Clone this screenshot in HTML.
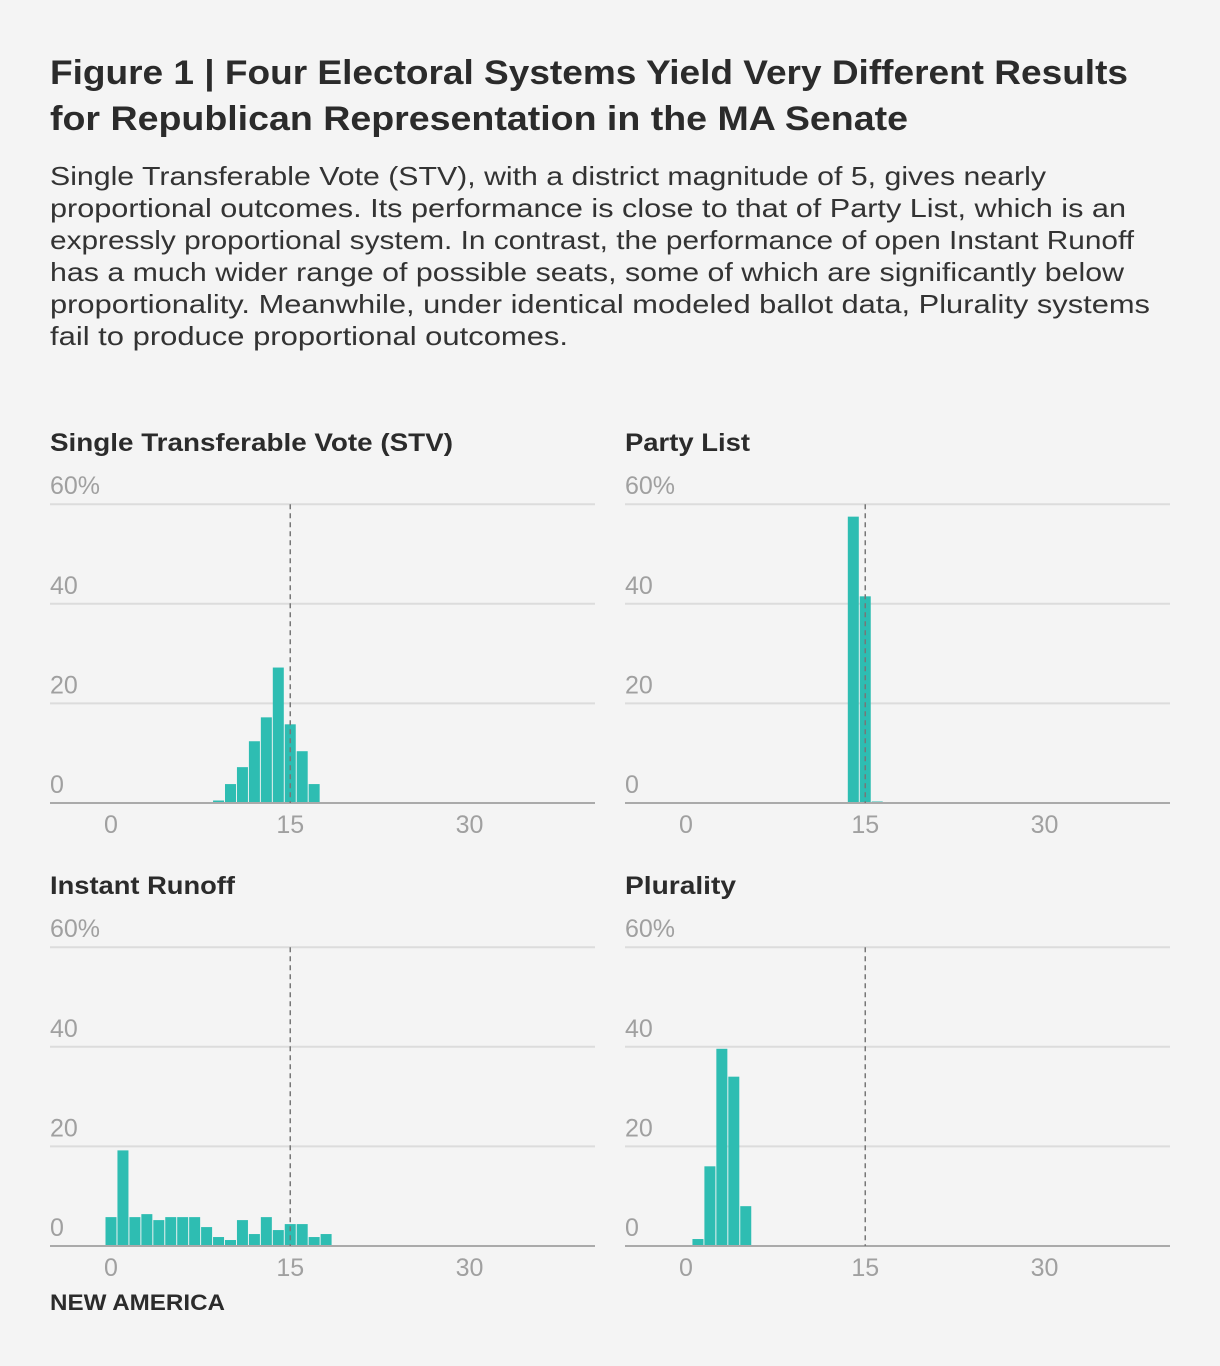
<!DOCTYPE html>
<html><head><meta charset="utf-8">
<style>
body{margin:0;background:#f4f4f4;width:1220px;height:1366px;overflow:hidden;font-family:"Liberation Sans",sans-serif;}
svg{position:absolute;left:0;top:0;}
</style></head>
<body>
<svg id="fig" width="1220" height="1366">
<text x="50" y="84" font-size="34" font-weight="bold" fill="#2b2b2b" textLength="1078" lengthAdjust="spacingAndGlyphs">Figure 1 | Four Electoral Systems Yield Very Different Results</text>
<text x="50" y="130" font-size="34" font-weight="bold" fill="#2b2b2b" textLength="858" lengthAdjust="spacingAndGlyphs">for Republican Representation in the MA Senate</text>
<g font-size="26" fill="#333" lengthAdjust="spacingAndGlyphs">
<text x="50" y="185" textLength="996" lengthAdjust="spacingAndGlyphs">Single Transferable Vote (STV), with a district magnitude of 5, gives nearly</text>
<text x="50" y="217" textLength="1076" lengthAdjust="spacingAndGlyphs">proportional outcomes. Its performance is close to that of Party List, which is an</text>
<text x="50" y="249" textLength="1084" lengthAdjust="spacingAndGlyphs">expressly proportional system. In contrast, the performance of open Instant Runoff</text>
<text x="50" y="281" textLength="1074" lengthAdjust="spacingAndGlyphs">has a much wider range of possible seats, some of which are significantly below</text>
<text x="50" y="313" textLength="1100" lengthAdjust="spacingAndGlyphs">proportionality. Meanwhile, under identical modeled ballot data, Plurality systems</text>
<text x="50" y="345" textLength="518" lengthAdjust="spacingAndGlyphs">fail to produce proportional outcomes.</text>
</g>
<text x="50" y="1310" font-size="22" font-weight="bold" fill="#2b2b2b" textLength="175" lengthAdjust="spacingAndGlyphs">NEW AMERICA</text>
</svg>
<script>
const stvSeats=[9,10,11,12,13,14,15,16,17];
const stvValues=[0.5,3.8,7.2,12.4,17.2,27.2,15.8,10.4,3.8];
const plSeats=[14,15,16];
const plValues=[57.5,41.5,0.3];
const irvSeats=[0,1,2,3,4,5,6,7,8,9,10,11,12,13,14,15,16,17,18];
const irvValues=[5.8,19.2,5.8,6.4,5.2,5.8,5.8,5.8,3.8,1.8,1.2,5.2,2.4,5.8,3.2,4.4,4.4,1.8,2.4];
const pluSeats=[1,2,3,4,5];
const pluValues=[1.4,16,39.6,34,8];
const yTicks=[0,20,40,60];
const yTickLabels=["0","20","40","60%"];
const xTicks=[0,15,30];
const proportional=15;

const NS="http://www.w3.org/2000/svg";
const svg=document.getElementById('fig');
function mk(tag,attrs,parent){const e=document.createElementNS(NS,tag);for(const k in attrs)e.setAttribute(k,attrs[k]);parent.appendChild(e);return e;}

function panel(name,title,titleLen,left,base,seats,values){
  const g=mk('g',{},svg);
  
  
  const right=left+545;
  const x=s=>left+61+s*11.95;
  const y=v=>base-v*4.98;
  const t=mk('text',{x:left,y:base-352,'font-size':25,'font-weight':'bold',fill:'#2b2b2b',textLength:titleLen,lengthAdjust:'spacingAndGlyphs'},g);
  t.textContent=title;
  
  
  yTicks.forEach((v,i)=>{
    if(v>0){const l=mk('line',{x1:left,x2:right,y1:y(v),y2:y(v),stroke:'#dcdcdc','stroke-width':2},g);
      
      }
    const tl=mk('text',{x:left,y:y(v)-10,'font-size':25,fill:'#a0a0a0'},g);
    tl.textContent=yTickLabels[i];
    
    
  });
  seats.forEach((s,i)=>{
    const r=mk('rect',{x:x(s)-5.5,y:y(values[i]),width:11,height:base-y(values[i]),fill:'#2ebdb2'},g);
    
    
  });
  const ax=mk('line',{x1:left,x2:right,y1:base,y2:base,stroke:'#aaa','stroke-width':2},g);
  
  
  const d=mk('line',{x1:x(proportional),x2:x(proportional),y1:y(60),y2:base,stroke:'#777','stroke-width':1.5,'stroke-dasharray':'5,4'},g);
  
  
  xTicks.forEach(v=>{
    const tl=mk('text',{x:x(v),y:base+30,'font-size':25,fill:'#a0a0a0','text-anchor':'middle'},g);
    tl.textContent=String(v);
    
    
  });
}
panel('stv','Single Transferable Vote (STV)',403,50,803,stvSeats,stvValues);
panel('party-list','Party List',125,625,803,plSeats,plValues);
panel('instant-runoff','Instant Runoff',185,50,1246,irvSeats,irvValues);
panel('plurality','Plurality',111,625,1246,pluSeats,pluValues);
</script>
</body></html>
